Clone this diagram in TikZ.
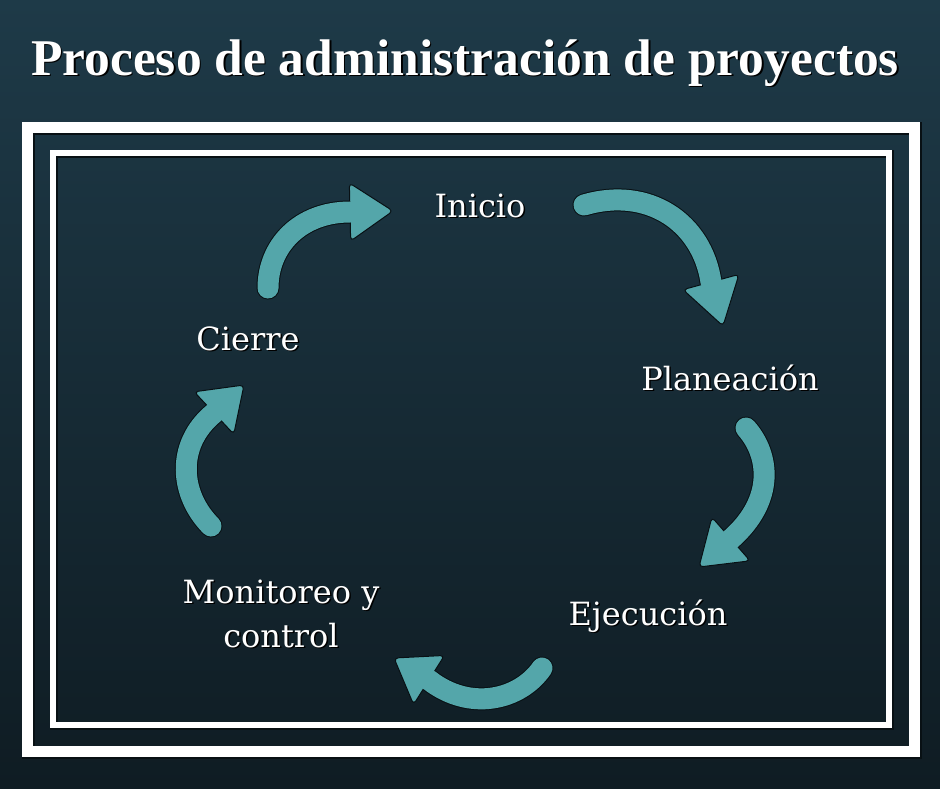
\documentclass[tikz,border=0pt]{standalone}
\usepackage{fontspec}
\setmainfont{DejaVu Serif}
\newfontfamily\titlefont{Liberation Serif}
\usetikzlibrary{calc}
\definecolor{bgtop}{RGB}{30,58,72}
\definecolor{bgbot}{RGB}{15,28,35}
\definecolor{arrowteal}{RGB}{84,166,170}
\definecolor{edgedark}{RGB}{8,16,20}
\tikzset{
  frameshadow/.style={draw=edgedark},
  framewhite/.style={draw=white},
  arrowedge/.style={line width=23pt, line cap=round, draw=edgedark},
  arrowbody/.style={line width=21pt, line cap=round, draw=arrowteal},
  arrowhead/.style={fill=arrowteal, draw=edgedark, line width=1pt, rounded corners=4pt, line join=round},
  steplabel/.style={text=white, font=\fontsize{32}{44}\selectfont, align=center, inner sep=0pt, anchor=base},
  steplabelshadow/.style={steplabel, text=black},
  titletext/.style={text=white, font=\titlefont\bfseries\fontsize{51.5}{60}\selectfont, inner sep=0pt, anchor=base},
  titleshadow/.style={titletext, text=black},
}
\newcommand{\cyclearrow}[5]{%
  \draw[arrowedge] (#1) .. controls (#2) and (#3) .. (#4);
  \draw[arrowhead] (#5) -- ($(#4)!29pt!90:(#5)$) -- ($(#4)!29pt!-90:(#5)$) -- cycle;
  \draw[arrowbody] (#1) .. controls (#2) and (#3) .. (#4);
}
\begin{document}
\begin{tikzpicture}[x=1pt, y=-1pt]
  \useasboundingbox (0,0) rectangle (940,788);
  \shade[top color=bgtop, bottom color=bgbot] (0,0) rectangle (940,788);

  % frames
  \draw[frameshadow, line width=13pt] (28,128.5) rectangle (915,752.5);
  \draw[framewhite, line width=11pt] (27.5,127.5) rectangle (914.5,751.5);
  \draw[frameshadow, line width=8pt] (53.5,153.5) rectangle (889.5,725.5);
  \draw[framewhite, line width=6pt] (53,153) rectangle (889,725);

  % title
  \node[titleshadow] (titles) at (466.5,76.5) {Proceso de administración de proyectos};
  \node[titletext] (title) at (465,75) {Proceso de administración de proyectos};

  % labels
  \node[steplabelshadow] (inicios) at (481.5,218.5) {Inicio};
  \node[steplabel] (inicio) at (480,217) {Inicio};
  \node[steplabelshadow] (planeacions) at (731.5,391.5) {Planeación};
  \node[steplabel] (planeacion) at (730,390) {Planeación};
  \node[steplabelshadow] (ejecucions) at (649.5,626.5) {Ejecución};
  \node[steplabel] (ejecucion) at (648,625) {Ejecución};
  \node[steplabelshadow] (cierres) at (249.5,351.5) {Cierre};
  \node[steplabel] (cierre) at (248,350) {Cierre};
  \node[steplabelshadow] (monitoreos) at (282.5,648.5) {Monitoreo y\\control};
  \node[steplabel] (monitoreo) at (281,647) {Monitoreo y\\control};

  % arrow points
  \coordinate (a1s) at (268,288); \coordinate (a1p) at (268,246);
  \coordinate (a1q) at (300,212); \coordinate (a1b) at (350,212);
  \coordinate (a1t) at (393,211);
  \coordinate (a2s) at (584,205); \coordinate (a2p) at (648,186);
  \coordinate (a2q) at (702,222); \coordinate (a2b) at (711,282);
  \coordinate (a2t) at (723,326);
  \coordinate (a3s) at (746,428); \coordinate (a3p) at (770,455);
  \coordinate (a3q) at (775,500); \coordinate (a3b) at (731,539);
  \coordinate (a3t) at (699,567);
  \coordinate (a4s) at (542,668); \coordinate (a4p) at (520,700);
  \coordinate (a4q) at (470,712); \coordinate (a4b) at (429,680);
  \coordinate (a4t) at (394,658);
  \coordinate (a5s) at (211,526); \coordinate (a5p) at (180,495);
  \coordinate (a5q) at (175,445); \coordinate (a5b) at (214,413);
  \coordinate (a5t) at (244,385);

  \cyclearrow{a1s}{a1p}{a1q}{a1b}{a1t}
  \cyclearrow{a2s}{a2p}{a2q}{a2b}{a2t}
  \cyclearrow{a3s}{a3p}{a3q}{a3b}{a3t}
  \cyclearrow{a4s}{a4p}{a4q}{a4b}{a4t}
  \cyclearrow{a5s}{a5p}{a5q}{a5b}{a5t}
\end{tikzpicture}
\end{document}
